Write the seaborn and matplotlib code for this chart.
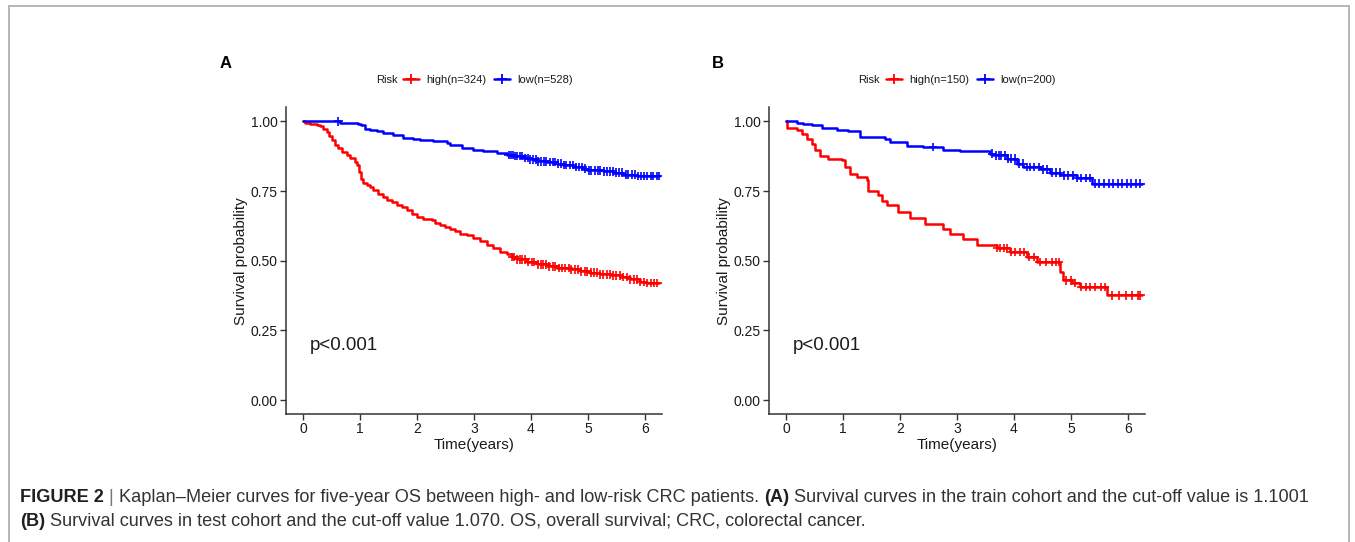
import numpy as np
import pandas as pd
import matplotlib
matplotlib.use("Agg")
import matplotlib.pyplot as plt
import seaborn as sns
from matplotlib.lines import Line2D

# ---------------- data ----------------
# Panel A (train cohort)
a_high_t = [0, 0.035, 0.123, 0.240, 0.298, 0.357, 0.415, 0.462, 0.503, 0.561, 0.620, 0.678,
            0.766, 0.825, 0.912, 0.953, 0.988, 1.018, 1.047, 1.117, 1.175, 1.234, 1.322, 1.409,
            1.468, 1.555, 1.643, 1.731, 1.819, 1.906, 1.994, 2.111, 2.257, 2.316, 2.404, 2.491,
            2.579, 2.667, 2.754, 2.871, 2.988, 3.105, 3.222, 3.339, 3.456, 3.573, 3.661, 3.749,
            3.924, 4.099, 4.275, 4.450, 4.684, 4.860, 5.035, 5.211, 5.386, 5.561, 5.737, 5.912,
            6.029, 6.25]
a_high_s = [1.000, 0.995, 0.992, 0.988, 0.983, 0.974, 0.962, 0.947, 0.932, 0.916, 0.904, 0.890,
            0.878, 0.868, 0.854, 0.842, 0.818, 0.794, 0.780, 0.773, 0.764, 0.752, 0.740, 0.728,
            0.716, 0.711, 0.701, 0.693, 0.681, 0.669, 0.657, 0.651, 0.645, 0.636, 0.629, 0.621,
            0.615, 0.605, 0.597, 0.591, 0.581, 0.569, 0.557, 0.545, 0.533, 0.525, 0.513, 0.505,
            0.495, 0.487, 0.480, 0.474, 0.469, 0.462, 0.457, 0.451, 0.447, 0.441, 0.433, 0.423,
            0.420, 0.420]
a_low_t = [0, 0.649, 0.971, 1.012, 1.088, 1.175, 1.292, 1.409, 1.585, 1.760, 1.936, 2.053,
           2.287, 2.520, 2.579, 2.725, 2.784, 2.988, 3.164, 3.398, 3.573, 3.690, 3.865, 3.982,
           4.099, 4.275, 4.450, 4.567, 4.743, 4.918, 4.977, 5.269, 5.444, 5.620, 5.854, 6.25]
a_low_s = [1.000, 0.995, 0.992, 0.986, 0.974, 0.968, 0.964, 0.959, 0.950, 0.940, 0.935, 0.932,
           0.928, 0.923, 0.916, 0.914, 0.904, 0.896, 0.892, 0.886, 0.880, 0.876, 0.868, 0.864,
           0.856, 0.854, 0.848, 0.844, 0.836, 0.830, 0.824, 0.821, 0.816, 0.809, 0.804, 0.804]
a_high_cens = [3.67, 3.71, 3.75, 3.80, 3.84, 3.90, 3.95, 4.01, 4.06, 4.12, 4.17, 4.21, 4.27,
               4.32, 4.38, 4.43, 4.49, 4.55, 4.60, 4.66, 4.71, 4.77, 4.82, 4.88, 4.94, 4.99,
               5.05, 5.10, 5.16, 5.22, 5.27, 5.33, 5.38, 5.44, 5.50, 5.56, 5.62, 5.68, 5.74,
               5.80, 5.86, 5.92, 5.98, 6.04, 6.10, 6.16, 6.22]
a_low_cens = [0.62, 3.61, 3.65, 3.68, 3.72, 3.76, 3.80, 3.85, 3.89, 3.94, 3.99, 4.04, 4.08,
              4.13, 4.18, 4.23, 4.27, 4.33, 4.38, 4.42, 4.47, 4.53, 4.58, 4.62, 4.68, 4.73,
              4.79, 4.84, 4.90, 4.95, 5.01, 5.06, 5.12, 5.17, 5.22, 5.28, 5.33, 5.38, 5.44,
              5.49, 5.55, 5.60, 5.66, 5.71, 5.77, 5.82, 5.88, 5.93, 5.99, 6.04, 6.10, 6.15,
              6.21, 6.25]

# Panel B (test cohort)
b_high_t = [0, 0.012, 0.187, 0.275, 0.363, 0.450, 0.509, 0.597, 0.743, 0.977, 1.035, 1.123,
            1.240, 1.415, 1.445, 1.620, 1.678, 1.766, 1.971, 2.176, 2.439, 2.760, 2.877, 3.111,
            3.345, 3.696, 3.930, 4.222, 4.398, 4.807, 4.866, 5.012, 5.158, 5.626, 6.25]
b_high_s = [1.000, 0.976, 0.968, 0.956, 0.938, 0.920, 0.896, 0.876, 0.866, 0.860, 0.836, 0.812,
            0.800, 0.788, 0.749, 0.734, 0.713, 0.701, 0.675, 0.653, 0.633, 0.612, 0.597, 0.579,
            0.555, 0.545, 0.531, 0.513, 0.495, 0.459, 0.429, 0.420, 0.405, 0.376, 0.376]
b_low_t = [0, 0.187, 0.304, 0.450, 0.626, 0.889, 1.094, 1.298, 1.737, 1.825, 2.117, 2.409,
           2.760, 3.053, 3.579, 3.637, 3.871, 4.047, 4.164, 4.456, 4.632, 4.807, 5.100, 5.363,
           6.25]
b_low_s = [1.000, 0.995, 0.990, 0.986, 0.976, 0.968, 0.964, 0.944, 0.935, 0.926, 0.911, 0.908,
           0.898, 0.892, 0.884, 0.878, 0.866, 0.848, 0.836, 0.828, 0.816, 0.806, 0.797, 0.776,
           0.776]
b_high_cens = [3.70, 3.76, 3.82, 3.88, 3.94, 4.02, 4.10, 4.18, 4.27, 4.36, 4.45, 4.56, 4.66,
               4.74, 4.79, 4.92, 5.00, 5.08, 5.18, 5.26, 5.34, 5.42, 5.52, 5.60, 5.72, 5.84,
               5.96, 6.08, 6.17, 6.22]
b_low_cens = [2.58, 3.62, 3.68, 3.73, 3.78, 3.84, 3.90, 3.95, 4.01, 4.08, 4.15, 4.22, 4.29,
              4.36, 4.44, 4.51, 4.58, 4.66, 4.73, 4.80, 4.88, 4.95, 5.03, 5.10, 5.18, 5.26,
              5.33, 5.42, 5.50, 5.58, 5.66, 5.74, 5.82, 5.90, 5.98, 6.06, 6.14, 6.22]

a_labels = ["high(n=324)", "low(n=528)"]
b_labels = ["high(n=150)", "low(n=200)"]
x_ticks = [0, 1, 2, 3, 4, 5, 6]
y_ticks = [0.0, 0.25, 0.50, 0.75, 1.00]
y_tick_labels = ["0.00", "0.25", "0.50", "0.75", "1.00"]
p_text = "p<0.001"
caption_line1 = [("FIGURE 2", "bold", "#231f20", False),
                 ("|", "normal", "#777777", True),
                 ("Kaplan\u2013Meier curves for five-year OS between high- and low-risk CRC patients.", "normal", "#333333", True),
                 ("(A)", "bold", "#231f20", True),
                 ("Survival curves in the train cohort and the cut-off value is 1.1001", "normal", "#333333", True)]
caption_line2 = [("(B)", "bold", "#231f20", False),
                 ("Survival curves in test cohort and the cut-off value 1.070. OS, overall survival; CRC, colorectal cancer.", "normal", "#333333", True)]

# ---------------- style ----------------
sns.set_theme(style="white")
plt.rcParams["font.family"] = ["Liberation Sans", "DejaVu Sans"]
RED, BLUE = "#FF0000", "#0000FF"
TXT = "#1a1a1a"

W, H = 1355, 542
fig = plt.figure(figsize=(W / 100, H / 100), dpi=100)
fig.patch.set_facecolor("white")


def step_value(t, s, c):
    idx = np.searchsorted(np.asarray(t), np.asarray(c), side="right") - 1
    return np.asarray(s)[idx]


def panel(rect, ht, hs, lt, ls, hc, lc, labels, letter, letter_x, risk_x, leg_x):
    ax = fig.add_axes(rect)
    df = pd.concat([
        pd.DataFrame({"time": ht, "surv": hs, "Risk": labels[0]}),
        pd.DataFrame({"time": lt, "surv": ls, "Risk": labels[1]}),
    ])
    pal = {labels[0]: RED, labels[1]: BLUE}
    sns.lineplot(data=df, x="time", y="surv", hue="Risk", palette=pal,
                 drawstyle="steps-post", estimator=None, sort=False,
                 linewidth=1.8, legend=False, ax=ax)
    dfc = pd.concat([
        pd.DataFrame({"time": hc, "surv": step_value(ht, hs, hc), "Risk": labels[0]}),
        pd.DataFrame({"time": lc, "surv": step_value(lt, ls, lc), "Risk": labels[1]}),
    ])
    sns.scatterplot(data=dfc, x="time", y="surv", hue="Risk", palette=pal,
                    marker="+", s=38, linewidth=1.2, legend=False, ax=ax, zorder=3)
    ax.set_xlim(-0.3, 6.3)
    ax.set_ylim(-0.05, 1.05)
    ax.set_xticks(x_ticks)
    ax.set_yticks(y_ticks)
    ax.set_yticklabels(y_tick_labels)
    sns.despine(ax=ax)
    for sp in ("left", "bottom"):
        ax.spines[sp].set_linewidth(1.1)
        ax.spines[sp].set_color("#333333")
    ax.tick_params(axis="both", direction="out", length=4, width=1.0, color="#333333",
                   labelsize=10, labelcolor=TXT, pad=2, bottom=True, left=True)
    ax.set_xlabel("Time(years)", fontsize=11, color=TXT, labelpad=1)
    ax.set_ylabel("Survival probability", fontsize=11, color=TXT, labelpad=2)
    ax.text(0.12, 0.195, p_text, fontsize=13.4, color=TXT, ha="left", va="center")
    ax.grid(False)

    # letter
    fig.text(letter_x / W, 1 - 63 / H, letter, fontsize=12, fontweight="bold",
             color="black", ha="left", va="center")
    # legend
    fig.text(risk_x / W, 1 - 80 / H, "Risk", fontsize=8, color=TXT, ha="left", va="center")
    handles = [Line2D([0], [0], color=RED, lw=1.8, marker="+", markersize=7, mew=1.3),
               Line2D([0], [0], color=BLUE, lw=1.8, marker="+", markersize=7, mew=1.3)]
    ax.legend(handles, labels, loc="center left", bbox_to_anchor=(leg_x / W, 1 - 80 / H),
              bbox_transform=fig.transFigure, ncol=2, frameon=False, fontsize=8,
              handlelength=1.45, handletextpad=0.6, columnspacing=0.75,
              borderpad=0, borderaxespad=0, labelcolor=TXT)
    return ax


axA = panel([286 / W, 1 - 414 / H, 376 / W, 306.6 / H],
            a_high_t, a_high_s, a_low_t, a_low_s, a_high_cens, a_low_cens,
            a_labels, "A", 220, 376, 403)
axB = panel([769 / W, 1 - 414 / H, 376 / W, 306.6 / H],
            b_high_t, b_high_s, b_low_t, b_low_s, b_high_cens, b_low_cens,
            b_labels, "B", 712, 858, 886)

# ---------------- caption ----------------
renderer = fig.canvas.get_renderer()


def draw_line(pieces, x0, y, fs):
    arts = []
    sw_t = fig.text(0, 0, "x x", fontsize=fs)
    sw_t2 = fig.text(0, 0, "xx", fontsize=fs)
    sw = sw_t.get_window_extent(renderer).width - sw_t2.get_window_extent(renderer).width
    sw_t.remove(); sw_t2.remove()
    x = x0
    for txt, wt, col, space in pieces:
        if space:
            x += sw
        t = fig.text(x / W, 1 - y / H, txt, fontsize=fs, fontweight=wt, color=col,
                     ha="left", va="center")
        x += t.get_window_extent(renderer).width
        arts.append(t)
    return arts, x - x0


fs0 = 12
arts, wdt = draw_line(caption_line1, 20, 497, fs0)
for a in arts:
    a.remove()
fs = fs0 * 1290 / wdt
draw_line(caption_line1, 20, 497, fs)
draw_line(caption_line2, 20, 521, fs)

# ---------------- border (left, top, right) ----------------
bc = "#aaaaaa"
fig.add_artist(Line2D([9 / W, 9 / W], [0, 1 - 6 / H], transform=fig.transFigure, color=bc, lw=1.2))
fig.add_artist(Line2D([9 / W, 1349 / W], [1 - 6 / H, 1 - 6 / H], transform=fig.transFigure, color=bc, lw=1.2))
fig.add_artist(Line2D([1349 / W, 1349 / W], [0, 1 - 6 / H], transform=fig.transFigure, color=bc, lw=1.2))

fig.savefig("out.png", dpi=100, facecolor="white")
